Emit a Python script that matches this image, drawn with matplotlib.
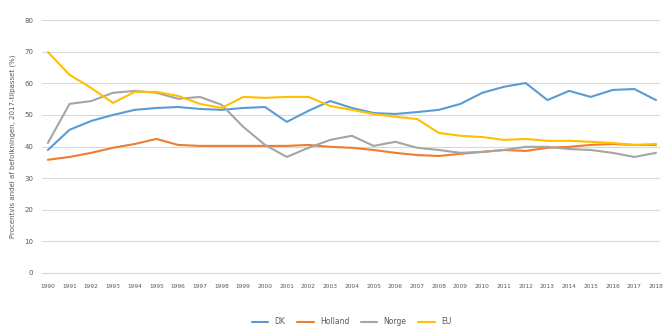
import matplotlib
matplotlib.use("Agg")
import matplotlib.pyplot as plt

years = list(range(1990, 2019))

dk = [38.9, 45.3, 48.1, 50.0, 51.6, 52.2, 52.5, 51.9, 51.6, 52.2,
      52.5, 47.8, 51.3, 54.4, 52.2, 50.6, 50.3, 50.9, 51.6, 53.5,
      57.0, 58.9, 60.1, 54.7, 57.6, 55.7, 57.9, 58.2, 54.7]
holland = [35.8, 36.7, 38.0, 39.6, 40.8, 42.4, 40.5, 40.2, 40.2, 40.2,
           40.2, 40.2, 40.5, 39.9, 39.6, 38.9, 38.0, 37.3, 37.0, 37.7,
           38.3, 38.9, 38.6, 39.6, 39.9, 40.5, 40.8, 40.5, 40.5]
norge = [41.1, 53.5, 54.4, 57.0, 57.6, 57.0, 55.1, 55.7, 53.2, 46.2,
         40.5, 36.7, 39.6, 42.1, 43.4, 40.2, 41.5, 39.6, 38.9, 38.0,
         38.3, 38.9, 39.9, 39.9, 39.2, 38.9, 38.0, 36.7, 38.0]
eu = [69.9, 62.7, 58.5, 53.8, 57.3, 57.3, 56.0, 53.5, 52.2, 55.7,
      55.4, 55.7, 55.7, 52.8, 51.6, 50.3, 49.4, 48.7, 44.3, 43.4,
      43.0, 42.1, 42.4, 41.8, 41.8, 41.5, 41.1, 40.5, 40.8]

series = [("DK", dk, "#5B9BD5"),
          ("Holland", holland, "#ED7D31"),
          ("Norge", norge, "#A5A5A5"),
          ("EU", eu, "#FFC000")]

fig = plt.figure(figsize=(6.63, 3.30), dpi=100)
ax = fig.add_axes([0.063, 0.173, 0.933, 0.766])

x = list(range(len(years)))
for name, vals, col in series:
    ax.plot(x, vals, color=col, lw=1.5, label=name, solid_capstyle="round")

ax.set_xlim(-0.28, 28.2)
ax.set_ylim(0, 80)
ax.set_yticks(range(0, 81, 10))
ax.set_xticks(x)
ax.set_xticklabels([str(y) for y in years], fontsize=4.2, color="#595959")
ax.tick_params(axis="y", labelsize=5, labelcolor="#595959", length=0, pad=6)
ax.tick_params(axis="x", length=0, pad=8)
ax.grid(axis="y", color="#D9D9D9", lw=0.8)
ax.set_axisbelow(True)
for s in ["top", "right", "left"]:
    ax.spines[s].set_visible(False)
ax.spines["bottom"].set_color("#D9D9D9")

ax.set_ylabel("Procentvis andel af befolkningen, 2017-tilpasset (%)",
              fontsize=5, color="#595959", labelpad=6)

fig.legend(loc="lower center", ncol=4, fontsize=5.5, frameon=False,
           bbox_to_anchor=(0.53, -0.01), handlelength=2.2, columnspacing=1.5,
           labelcolor="#595959")

fig.savefig("out.png", dpi=100)
